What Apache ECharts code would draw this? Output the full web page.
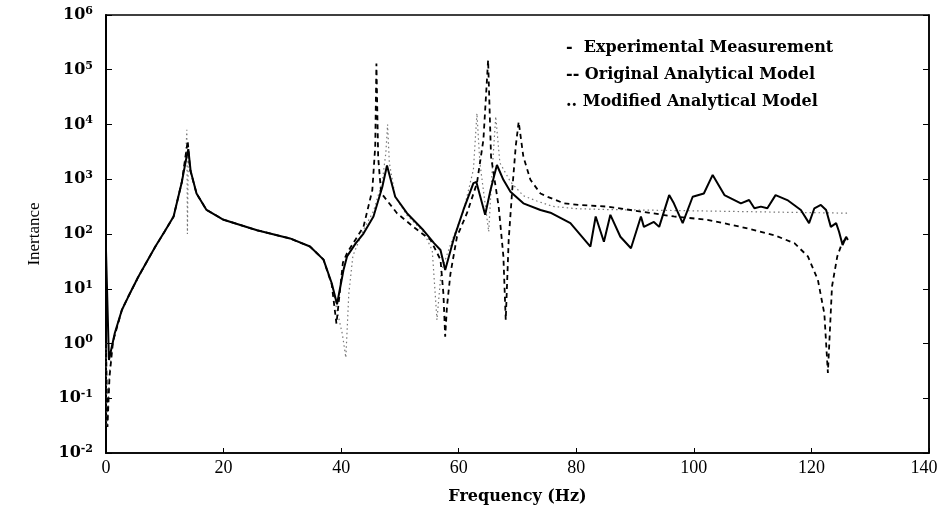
<!DOCTYPE html>
<html>
<head>
<meta charset="utf-8">
<script src="https://cdn.jsdelivr.net/npm/echarts@6/dist/echarts.min.js"></script>
<style>
  html, body { margin: 0; padding: 0; background: #fff; }
  #root { width: 940px; height: 516px; }
</style>
</head>
<body>
<div id="root"></div>
<script>
// x tick labels (Hz) and y decades (exponents of 10)
var xTicks = [0, 20, 40, 60, 80, 100, 120, 140];
var yExponents = [-2, -1, 0, 1, 2, 3, 4, 5, 6];

// Experimental measurement (solid)
var expFreq = [0, 0.5, 1.5, 2.7, 3.8, 5.5, 8.4, 10, 11.5, 12.9, 13.6, 14.0, 14.4, 15.4, 17.1, 20, 25.7, 31.3, 34.7, 37, 38.4, 39.3,
  40.4, 41, 42.5, 43.8, 45.5, 47, 47.8, 49.2, 51.2, 54, 55.8, 56.9, 57.7, 59.1, 60.8, 62.5, 63.0, 64.5, 65.4, 66.5, 67.6, 68.8,
  71, 73.9, 75.6, 79, 82.4, 83.3, 84.7, 85.8, 87.5, 89.3, 91, 91.5, 93.2, 94.1, 95.8, 96.6, 98.1, 99.8, 101.7, 103.2, 105.2,
  108, 109.4, 110.3, 111.4, 112.5, 113.9, 115.9, 118.2, 119.6, 120.5, 121.6, 122.5, 123.3, 124.2, 124.7, 125.3, 125.9, 126.2];
var expVal = [50, 0.5, 1.55, 4.1, 7.2, 16.6, 59, 112, 209, 890, 2240, 3550, 1410, 550, 275, 182, 117, 83, 59, 34, 12.6, 5.2,
  22, 39, 68, 102, 209, 724, 1780, 479, 240, 117, 68, 51, 22, 78, 275, 850, 890, 224, 630, 1820, 977, 590,
  363, 275, 245, 158, 59, 209, 72, 224, 89, 55, 209, 135, 166, 135, 513, 363, 158, 479, 550, 1200, 513,
  363, 417, 295, 316, 295, 513, 417, 275, 158, 295, 339, 275, 135, 158, 110, 63, 89, 78];

// Original analytical model (dashed)
var origFreq = [0, 0.25, 0.6, 1.2, 2.7, 3.8, 5.5, 8.4, 10, 11.5, 12.9, 13.6, 13.9, 14.3, 15.4, 17.1, 20, 25.7, 31.3, 34.7, 37, 38.4, 39.2,
  40.3, 41, 43.8, 45.3, 45.8, 46.0, 46.3, 46.8, 49.5, 52.3, 55.2, 56.9, 57.4, 57.7, 58.0, 58.6, 59.7, 61.4, 63.1, 64.2, 65.0,
  65.5, 66.8, 67.6, 68.0, 68.5, 69.1, 69.7, 70.2, 71.0, 72.2, 73.9, 75.1, 77.9, 80.4, 85.3, 91, 96.6, 102.3, 108, 113.7,
  117.1, 119.4, 121.1, 122.2, 122.8, 123.5, 124.4, 125.2, 126.1];
var origVal = [1.0, 0.03, 0.25, 1.1, 4.1, 7.2, 16.6, 59, 112, 209, 890, 3000, 5000, 1500, 550, 275, 182, 117, 83, 59, 34, 12, 2.3,
  30, 45, 135, 630, 4000, 130000, 2500, 560, 240, 135, 78, 34, 8, 1.33, 4.7, 19, 89, 240, 850, 5250, 150000,
  2570, 316, 39, 2.7, 78, 630, 4000, 11200, 2570, 977, 550, 479, 363, 339, 316, 257, 209, 182, 135, 95,
  68, 39, 14.5, 3.5, 0.29, 11, 39, 68, 89];

// Modified analytical model (dotted)
var modFreq = [0, 0.2, 0.6, 1.2, 2.7, 5.5, 8.4, 11.5, 12.9, 13.6, 13.75, 13.85, 14.0, 14.4, 15.4, 17.1, 20, 25.7, 31.3, 34.7, 37, 38.4,
  39.3, 40.2, 40.8, 41.3, 42, 43.8, 45.5, 47, 47.6, 47.9, 48.2, 49.2, 51.2, 54, 55.5, 56.3, 57.0, 58.5, 60.8, 62.5, 63.1, 63.6,
  65.1, 65.6, 66.3, 67, 68.8, 71, 73.3, 76, 80, 85, 95, 105, 115, 126.2];
var modVal = [1, 0.03, 0.3, 1.1, 4.1, 16, 59, 209, 890, 3000, 8000, 100, 3000, 1400, 550, 275, 182, 117, 83, 59, 34, 12,
  4, 1.5, 0.55, 8, 40, 120, 260, 900, 3000, 10000, 2000, 480, 220, 110, 50, 2.7, 20, 60, 260, 1500, 16000, 2000,
  110, 1000, 14000, 2000, 900, 500, 400, 320, 290, 280, 270, 260, 250, 240];

function pairs(xs, ys) {
  return xs.map(function (x, i) { return [x, ys[i]]; });
}

var serif = 'DejaVu Serif';
var root = document.getElementById('root');
var myChart = echarts.init(root);

var option = {
  animation: false,
  backgroundColor: '#fff',
  grid: {
    left: 106, right: 11, top: 15, bottom: 63,
    containLabel: false, outerBoundsMode: 'none',
    show: true, borderColor: '#000', borderWidth: 1.5
  },
  xAxis: {
    type: 'value',
    min: xTicks[0], max: xTicks[xTicks.length - 1], interval: 20,
    name: 'Frequency (Hz)', nameLocation: 'middle', nameGap: 36,
    nameTextStyle: { fontFamily: serif, fontSize: 16, fontWeight: 'bold', color: '#000' },
    axisLine: { lineStyle: { color: '#000', width: 1.5 } },
    axisTick: { inside: true, length: 5, lineStyle: { color: '#000' } },
    axisLabel: {
      fontFamily: 'Liberation Serif', fontSize: 18, color: '#000', margin: 6,
      formatter: function (v) {
        // last label sits against the page edge, nudge it inward
        return v === xTicks[xTicks.length - 1] ? '{r|' + v + '}' : String(v);
      },
      rich: { r: { fontFamily: 'Liberation Serif', fontSize: 18, color: '#000', padding: [0, 10, 0, 0] } }
    },
    splitLine: { show: false }
  },
  yAxis: [{
    type: 'log', logBase: 10,
    min: Math.pow(10, yExponents[0]), max: Math.pow(10, yExponents[yExponents.length - 1]),
    splitNumber: 8,
    name: 'Inertance', nameLocation: 'middle', nameGap: 63,
    nameTextStyle: { fontFamily: 'Liberation Serif', fontSize: 17, color: '#000' },
    axisLine: { lineStyle: { color: '#000', width: 2 } },
    axisTick: { inside: true, length: 6, lineStyle: { color: '#000' } },
    axisLabel: {
      margin: 13,
      formatter: function (v) {
        var e = Math.round(Math.log10(v));
        return '{b|10}{s|' + e + '}';
      },
      rich: {
        b: { fontFamily: serif, fontSize: 16, fontWeight: 'bold', color: '#000' },
        s: { fontFamily: serif, fontSize: 11, fontWeight: 'bold', color: '#000', verticalAlign: 'top', padding: [0, 0, 8, 0] }
      }
    },
    splitLine: { show: false },
    minorTick: { show: false }
  }, {
    type: 'log', logBase: 10, position: 'right',
    min: Math.pow(10, yExponents[0]), max: Math.pow(10, yExponents[yExponents.length - 1]),
    splitNumber: 8,
    axisLine: { show: true, lineStyle: { color: '#000', width: 1.5 } },
    axisTick: { inside: true, length: 6, lineStyle: { color: '#000' } },
    axisLabel: { show: false },
    splitLine: { show: false }
  }],
  series: [
    {
      name: 'Modified Analytical Model', type: 'line', showSymbol: false,
      data: pairs(modFreq, modVal),
      lineStyle: { color: '#777', width: 1.2, type: [1.5, 3] }
    },
    {
      name: 'Original Analytical Model', type: 'line', showSymbol: false,
      data: pairs(origFreq, origVal),
      lineStyle: { color: '#000', width: 1.8, type: [5, 4] }
    },
    {
      name: 'Experimental Measurement', type: 'line', showSymbol: false,
      data: pairs(expFreq, expVal),
      lineStyle: { color: '#000', width: 2 }
    }
  ],
  graphic: [
    { type: 'text', left: 566, top: 40, style: { text: '-  Experimental Measurement', font: 'bold 16px "DejaVu Serif"', fill: '#000' } },
    { type: 'text', left: 566, top: 67, style: { text: '-- Original Analytical Model', font: 'bold 16px "DejaVu Serif"', fill: '#000' } },
    { type: 'text', left: 566, top: 94, style: { text: '.. Modified Analytical Model', font: 'bold 16px "DejaVu Serif"', fill: '#000' } }
  ]
};
myChart.setOption(option);
</script>
</body>
</html>
